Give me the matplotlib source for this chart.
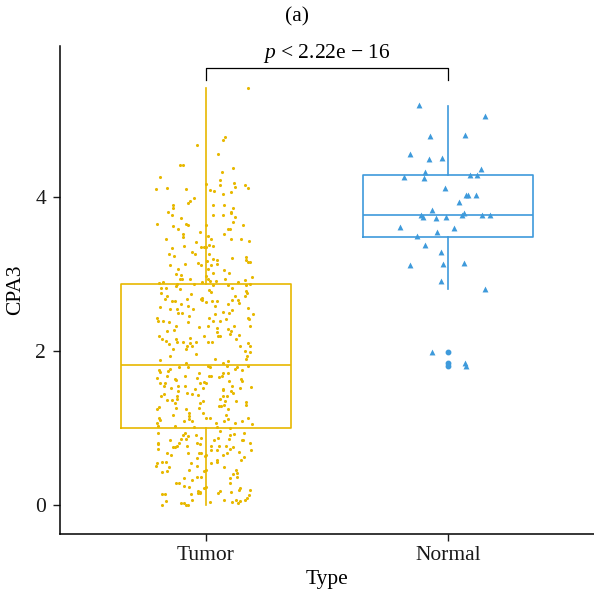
import matplotlib
matplotlib.use("Agg")
import matplotlib.pyplot as plt
import numpy as np

plt.rcParams['font.family'] = ['Liberation Serif', 'DejaVu Serif']
plt.rcParams['mathtext.fontset'] = 'custom'
plt.rcParams['mathtext.rm'] = 'Liberation Serif'
plt.rcParams['mathtext.it'] = 'Liberation Serif:italic'

# groups and colours
groups = ['Tumor', 'Normal']
group_colors = ['#E7B800', '#3E9ADB']

# box statistics: lower whisker, Q1, median, Q3, upper whisker
box_whislo = [0.00, 2.81]
box_q1 = [1.00, 3.48]
box_med = [1.82, 3.77]
box_q3 = [2.87, 4.29]
box_whishi = [5.42, 5.18]
box_fliers = [[], [1.98, 1.84, 1.81]]

# Tumor samples (CPA3 expression) and their horizontal jitter
tumor_cpa3 = [
    5.41, 4.78, 4.74, 4.68, 4.56, 4.41, 4.42, 4.37,
    4.33, 4.26, 4.22, 4.18, 4.16, 4.15, 4.13, 4.11, 4.10, 4.11,
    4.10, 4.09, 4.08, 4.07, 4.04, 3.98, 3.95, 3.92, 3.90, 3.90,
    3.89, 3.85, 3.85, 3.81, 3.79, 3.80, 3.77, 3.77, 3.77, 3.74,
    3.72, 3.67, 3.65, 3.65, 3.64, 3.64, 3.62, 3.59, 3.59, 3.58,
    3.55, 3.52, 3.48, 3.52, 3.49, 3.46, 3.45, 3.45, 3.45, 3.43,
    3.41, 3.36, 3.38, 3.36, 3.35, 3.35, 3.35, 3.34, 3.28, 3.26,
    3.26, 3.26, 4.17, 3.64,
    3.23, 3.21, 3.22, 3.18, 3.17, 3.19, 3.18, 3.15, 3.15, 3.14,
    3.12, 3.13, 3.13, 3.11, 3.11, 3.06, 3.06, 3.05, 3.00, 2.99,
    3.01, 3.01, 2.96, 2.97, 2.94, 2.91, 2.94, 2.94, 2.94, 2.94,
    2.91, 2.90, 2.92, 2.88, 2.90, 2.87, 2.87, 2.90, 2.86, 2.85,
    2.86, 2.87, 2.82, 2.82, 2.84, 2.80, 2.82, 2.79, 2.77, 2.78,
    2.75, 2.75, 2.72, 2.74, 2.72, 2.71, 2.69, 2.68, 2.66, 2.67,
    2.67, 2.65, 2.65, 2.66, 2.66, 2.65, 2.65, 2.63, 2.61, 2.61,
    2.62, 2.58, 2.58, 2.57, 2.55, 2.54, 2.55, 2.56, 2.53, 2.50,
    2.49, 2.49, 2.48, 2.49, 2.48, 2.43, 2.39, 2.45, 2.43, 2.43,
    2.42, 2.41, 2.39, 2.38, 2.37, 2.39, 2.39, 2.33, 2.32, 2.31,
    2.32, 2.30, 2.33, 2.27, 2.26, 2.28, 2.26, 2.22, 2.24, 2.19,
    2.16, 2.16, 2.19, 2.19, 2.19, 2.16, 2.21,
    2.17, 2.13, 2.09, 2.11, 2.11, 2.10, 2.11, 2.12, 2.11, 2.07,
    2.10, 2.06, 2.06, 2.03, 2.06, 2.03, 2.00, 1.98, 1.96, 1.94,
    1.94, 1.90, 1.88, 1.89, 1.87, 1.84, 1.84, 1.79, 1.79, 1.81,
    1.79, 1.81, 1.81, 1.77, 1.79, 1.75, 1.73, 1.74, 1.76, 1.75,
    1.72, 1.72, 1.72, 1.67, 1.67, 1.65, 1.67, 1.68, 1.66, 1.67,
    1.65, 1.63, 1.62, 1.61, 1.63, 1.61, 1.60, 1.58, 1.59, 1.58,
    1.54, 1.58, 1.54, 1.52, 1.55, 1.51, 1.52, 1.55, 1.52, 1.53,
    1.50, 1.48, 1.49, 1.48, 1.46, 1.45, 1.44, 1.42, 1.44, 1.42,
    1.43, 1.42, 1.42, 1.37, 1.36, 1.36, 1.37, 1.35, 1.32, 1.32,
    1.34, 1.30, 1.35, 1.29, 1.29, 1.30, 1.35, 1.25, 1.27, 1.26,
    1.26, 1.24, 1.25, 1.20, 1.16, 1.20, 1.17, 1.17, 1.13, 1.10,
    1.13, 1.13, 1.11, 1.12, 1.13, 1.07, 1.09, 1.09, 1.07, 1.09,
    1.07, 1.09, 1.05,
    1.03, 1.02, 1.01, 1.01, 1.00, 0.96, 0.94, 0.94, 0.91, 0.86,
    0.81, 0.90, 0.91, 0.91, 0.92, 0.94, 0.85, 0.86, 0.87, 0.85,
    0.87, 0.86, 0.84, 0.85, 0.81, 0.79, 0.81, 0.79, 0.77, 0.77,
    0.76, 0.77, 0.80, 0.75, 0.75, 0.76, 0.73, 0.72, 0.71, 0.73,
    0.75, 0.71, 0.69, 0.68, 0.65, 0.67, 0.68, 0.67, 0.65, 0.67,
    0.64, 0.61, 0.62, 0.58, 0.59, 0.56, 0.55, 0.55, 0.56, 0.56,
    0.54, 0.51, 0.50, 0.49, 0.49, 0.46, 0.45, 0.44, 0.43, 0.44,
    0.40, 0.42, 0.36, 0.36, 0.35, 0.32, 0.35, 0.36, 0.29, 0.29,
    0.29, 0.24, 0.23, 0.22, 0.22, 0.20, 0.19, 0.18, 0.17, 0.15,
    0.15, 0.16, 0.18, 0.17, 0.13, 0.09, 0.06, 0.14, 0.14, 0.14,
    0.07, 0.06, 0.05, 0.06, 0.04, 0.03, 0.02, 0.04, 0.02, 0.05,
    0.00, 0.00, 0.00, 0.65, 0.45, 0.23,
]
tumor_jitter = [
    0.173, 0.078, 0.071, -0.034, 0.052, -0.106, -0.095, 0.111,
    0.066, -0.187, 0.060, 0.118, 0.163, 0.060, 0.121, 0.174, -0.203, -0.160,
    -0.081, 0.016, 0.036, 0.106, 0.073, -0.049, -0.063, -0.073, -0.136, 0.077,
    0.032, -0.136, 0.111, 0.104, 0.104, -0.156, -0.140, 0.032, 0.073, 0.122,
    -0.102, 0.114, -0.200, -0.082, -0.071, 0.155, -0.133, -0.112, 0.091, 0.099,
    -0.025, -0.092, -0.095, 0.075, 0.010, 0.021, -0.165, 0.103, 0.147, 0.177,
    -0.041, -0.089, 0.014, 0.032, -0.019, -0.007, 0.001, -0.139, -0.056, -0.042,
    -0.151, 0.015, 0.000, 0.000,
    -0.132, 0.108, 0.165, 0.165, 0.007, 0.032, 0.045, 0.174, 0.184, -0.030,
    -0.147, -0.084, 0.047, 0.021, -0.019, -0.114, 0.008, 0.077, -0.122, -0.100,
    0.029, 0.096, 0.193, 0.000, 0.011, 0.019, -0.107, -0.096, -0.066, 0.078,
    0.042, 0.132, 0.162, -0.193, -0.177, -0.117, -0.048, -0.016, 0.032, 0.091,
    0.167, 0.181, -0.185, -0.162, -0.122, -0.106, 0.108, 0.012, 0.021, 0.165,
    0.172, -0.182, -0.160, -0.062, 0.123, 0.163, -0.016, -0.020, -0.014, -0.167,
    -0.077, 0.026, 0.045, 0.108, 0.132, -0.140, -0.126, 0.001, 0.093, -0.102,
    0.136, -0.074, 0.037, -0.187, -0.053, -0.145, -0.119, 0.173, 0.110, 0.071,
    -0.115, -0.099, 0.040, 0.096, 0.195, -0.202, -0.198, -0.067, 0.012, 0.174,
    0.178, 0.084, -0.177, -0.149, -0.074, 0.029, 0.059, -0.121, 0.118, -0.026,
    0.010, 0.047, 0.182, -0.130, -0.160, 0.091, 0.103, 0.099, 0.048, -0.193,
    -0.180, -0.123, -0.005, 0.052, 0.060, 0.125, 0.136,
    -0.063, -0.165, -0.149, -0.117, -0.095, -0.063, -0.041, 0.008, 0.027, 0.143,
    0.174, 0.182, -0.077, -0.081, -0.056, -0.136, 0.162, 0.182, -0.038, -0.147,
    0.171, 0.166, -0.189, 0.038, 0.093, -0.081, 0.073, -0.073, -0.108, 0.011,
    0.018, 0.086, 0.174, 0.119, 0.128, -0.193, -0.187, -0.154, -0.148, 0.150,
    0.073, 0.091, -0.026, -0.160, -0.085, -0.034, 0.014, 0.021, 0.053, 0.069,
    -0.200, -0.126, -0.121, 0.097, 0.147, 0.148, -0.005, 0.001, -0.188, -0.167,
    -0.085, -0.025, -0.173, -0.144, -0.115, -0.045, -0.010, 0.110, 0.140, 0.185,
    0.073, -0.115, 0.070, 0.104, 0.111, -0.077, -0.058, -0.182, -0.170, -0.117,
    -0.033, 0.071, 0.088, 0.058, -0.158, -0.140, -0.119, -0.010, -0.126, -0.023,
    0.165, 0.165, 0.125, 0.053, 0.065, 0.074, 0.078, -0.199, -0.192, -0.121,
    -0.028, -0.081, 0.093, -0.070, -0.067, -0.011, -0.133, 0.085, -0.193, -0.187,
    0.001, 0.016, -0.069, 0.091, 0.174, -0.199, -0.091, -0.055, 0.042, 0.077,
    0.123, 0.151, 0.191,
    -0.198, -0.128, -0.048, 0.048, 0.100, 0.058, -0.196, -0.085, -0.095, -0.103,
    -0.110, -0.071, -0.041, 0.100, 0.115, 0.158, -0.147, -0.081, -0.019, 0.033,
    0.051, 0.097, 0.150, 0.154, -0.198, -0.198, -0.036, -0.023, -0.075, 0.022,
    0.053, 0.082, 0.181, -0.136, -0.125, -0.118, -0.195, 0.021, 0.047, 0.100,
    0.111, 0.185, 0.139, -0.158, -0.144, -0.074, -0.026, -0.019, 0.071, 0.089,
    -0.001, -0.037, 0.158, 0.144, 0.047, 0.047, 0.021, -0.200, -0.181, -0.163,
    -0.060, -0.037, -0.203, -0.151, 0.074, 0.125, -0.067, -0.007, -0.178, -0.159,
    0.111, 0.130, -0.034, -0.018, -0.088, -0.055, 0.102, 0.128, 0.099, -0.123,
    -0.111, -0.088, -0.070, -0.007, 0.143, 0.139, 0.181, -0.031, -0.025, -0.032,
    -0.023, 0.052, 0.060, 0.106, 0.177, 0.172, 0.163, -0.181, -0.166, -0.060,
    0.126, 0.075, -0.165, -0.056, 0.019, -0.100, -0.091, 0.107, 0.134, 0.140,
    -0.178, -0.082, -0.071, 0.000, 0.000, 0.000,
]

# Normal samples and their horizontal jitter
normal_cpa3 = [
    5.19, 5.05, 4.79, 4.81, 4.56, 4.49, 4.50, 4.33, 4.36, 4.26,
    4.25, 4.29, 4.29, 4.12, 4.03, 4.02, 4.03, 3.93, 3.83, 3.76,
    3.74, 3.72, 3.74, 3.77, 3.79, 3.77, 3.77, 3.61, 3.60, 3.55,
    3.49, 3.38, 3.28, 3.12, 3.13, 3.14, 2.91, 2.81, 1.98, 1.84,
    1.81,
]
normal_jitter = [
    -0.123, 0.152, -0.075, 0.069, -0.158, -0.078, -0.026, -0.098, 0.136, -0.181,
    -0.100, 0.091, 0.118, -0.012, 0.073, 0.082, 0.115, 0.045, -0.066, -0.112,
    -0.106, -0.049, -0.009, 0.056, 0.066, 0.139, 0.170, -0.200, 0.023, -0.048,
    -0.129, -0.095, -0.032, -0.156, -0.021, 0.065, -0.030, 0.152, -0.067, 0.069,
    0.071,
]

p_label = '$p$ < 2.22e \u2212 16'

fig = plt.figure(figsize=(5.94, 5.95), dpi=100)
ax = fig.add_axes([60 / 594, 61 / 595, 534 / 594, 488 / 595])

positions = np.arange(1, len(groups) + 1)

# boxplots from the summary statistics
for i, pos in enumerate(positions):
    stats = [dict(whislo=box_whislo[i], q1=box_q1[i], med=box_med[i],
                  q3=box_q3[i], whishi=box_whishi[i], fliers=box_fliers[i])]
    c = group_colors[i]
    ax.bxp(stats, positions=[pos], widths=0.7, showcaps=False,
           boxprops=dict(color=c, linewidth=1.2),
           whiskerprops=dict(color=c, linewidth=1.2),
           medianprops=dict(color=c, linewidth=1.2),
           flierprops=dict(marker='o', markersize=3.2, markerfacecolor=c,
                           markeredgecolor=c),
           zorder=2)

# jittered points
ax.scatter(positions[0] + np.array(tumor_jitter), tumor_cpa3, s=5,
           marker='o', color=group_colors[0], linewidths=0, zorder=3)
ax.scatter(positions[1] + np.array(normal_jitter), normal_cpa3, s=18,
           marker='^', color=group_colors[1], linewidths=0, zorder=3)

# significance bracket
ax.plot([1, 1, 2, 2], [5.52, 5.68, 5.68, 5.52], color='black',
        linewidth=0.9, clip_on=False)
ax.text(1.5, 5.71, p_label, ha='center', va='bottom', fontsize=15.5)

ax.set_xlim(0.4, 2.6)
ax.set_ylim(-0.377, 5.96)
ax.set_xticks(positions)
ax.set_xticklabels(groups)
ax.set_yticks([0, 2, 4])

for side in ['top', 'right']:
    ax.spines[side].set_visible(False)
for side in ['left', 'bottom']:
    ax.spines[side].set_linewidth(1.1)

ax.tick_params(axis='both', direction='out', length=5, width=1.0,
               labelsize=15.5, colors='#1a1a1a')
ax.tick_params(axis='y', pad=5)
ax.tick_params(axis='x', pad=4)

ax.set_xlabel('Type', fontsize=15.5)
ax.set_ylabel('CPA3', fontsize=15.5)
ax.xaxis.set_label_coords(0.5, -0.094)
ax.yaxis.set_label_coords(-0.084, 0.5)
ax.xaxis.label.set_va('center')
ax.yaxis.label.set_va('center')

fig.text(0.5, 1 - 17 / 595, '(a)', ha='center', va='center', fontsize=15.5)

fig.savefig('out.png', dpi=100)
